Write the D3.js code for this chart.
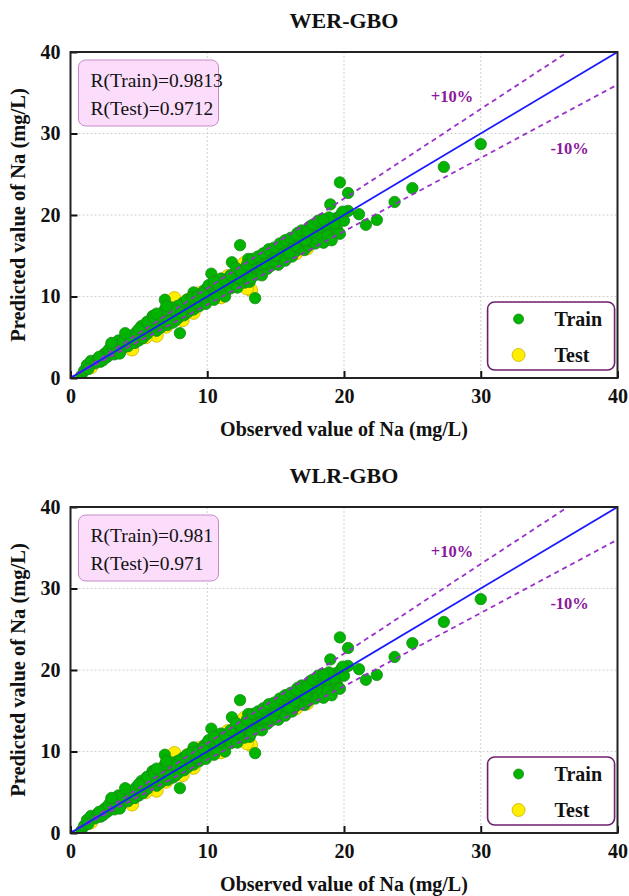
<!DOCTYPE html>
<html>
<head>
<meta charset="utf-8">
<script src="https://cdn.jsdelivr.net/npm/d3@7"></script>
<style>
  html, body { margin: 0; padding: 0; background: #fff; }
  svg text { font-family: "Liberation Serif", "Times New Roman", "DejaVu Serif", serif; }
</style>
</head>
<body>
<svg id="chart" width="629" height="896"></svg>
<script>
// Observed vs predicted sodium (mg/L) for the training set
const trainObs = [
  0.8,1.0,1.2,1.5,1.8,2.0,2.2,2.5,2.7,2.9,3.0,3.2,3.4,3.5,3.7,3.9,4.0,4.2,4.4,4.5,4.7,4.9,5.0,5.2,5.3,5.5,5.6,5.8,5.9,6.0,
  6.1,6.3,6.4,6.5,6.6,6.7,6.9,7.0,7.1,7.2,7.3,7.5,7.6,7.8,7.9,8.0,8.1,8.2,8.3,8.5,8.6,8.7,8.9,9.0,9.1,9.3,9.4,9.5,9.7,9.8,
  9.9,10.0,10.2,10.3,10.4,10.5,10.6,10.8,10.9,11.0,11.2,11.3,11.4,11.5,11.7,11.8,11.9,12.0,12.1,12.2,12.4,12.4,12.5,12.6,12.7,12.8,12.9,13.0,13.1,13.2,
  13.3,13.4,13.5,13.6,13.7,13.8,13.9,14.0,14.1,14.2,14.3,14.4,14.5,14.6,14.7,14.8,14.9,15.0,15.1,15.2,15.3,15.4,15.5,15.6,15.7,15.8,15.9,16.0,16.1,16.2,
  16.3,16.4,16.5,16.6,16.8,16.9,17.0,17.1,17.3,17.4,17.5,17.6,17.8,17.9,18.0,18.1,18.3,18.4,18.5,18.6,18.8,19.0,19.1,19.2,19.4,19.5,19.7,19.7,19.8,20.0,
  20.3,20.3,21.1,21.6,22.4,23.7,25.0,27.3,30.0,
  1.3,2.4,3.3,3.6,4.1,4.6,5.1,5.4,5.7,6.2,6.8,7.4,7.7,8.4,8.8,9.2,9.6,10.1,10.7,11.1,11.6,12.3,12.7,13.2,13.6,14.0,14.4,14.8,15.2,15.6,
  16.0,16.4,16.7,17.2,17.7,18.2,18.7,19.3,19.9,13.0,11.0,9.0,7.2,6.0,15.0,14.2,12.0,10.5,8.0,16.6,17.5,18.9,
  2.1,2.8,3.1,3.8,4.3,4.8,5.2,5.6,6.1,6.5,6.9,7.3,7.7,8.1,8.5,8.9,9.3,9.7,10.1,10.5,10.9,11.3,11.7,12.1,12.5,12.9,13.3,13.7,14.1,14.5,
  14.9,15.3,15.7,16.1,16.5,16.9,17.3,17.7,18.1,18.5,5.0,6.3,7.0,4.0,3.0
];
const trainPred = [
  0.3,0.9,1.6,2.1,1.8,2.4,2.0,3.0,2.6,3.4,4.2,2.9,3.8,4.6,3.4,4.1,4.9,3.9,4.6,5.2,4.3,5.0,4.6,5.6,4.9,6.2,5.4,7.0,6.0,7.6,
  6.6,5.8,7.3,6.9,6.2,7.9,9.6,7.2,6.5,8.3,7.6,6.8,8.0,8.8,7.4,5.5,8.4,9.2,7.7,8.9,8.1,9.7,9.0,8.4,9.9,9.4,8.8,10.3,9.6,10.8,
  9.1,10.2,11.0,12.8,10.1,9.6,11.4,10.7,11.8,10.4,11.3,10.0,12.1,11.6,11.0,14.2,12.4,11.5,12.8,11.1,16.3,12.6,12.0,13.2,11.7,12.8,12.2,13.6,11.8,13.0,
  12.5,14.0,9.8,13.3,12.7,14.3,13.2,12.6,14.6,13.8,15.1,13.4,14.4,15.4,13.8,15.0,14.2,15.7,14.6,13.9,15.3,16.0,14.9,15.6,14.4,16.3,15.3,16.8,15.8,14.9,
  16.2,17.0,15.6,16.6,15.9,17.3,16.6,15.7,17.0,16.2,17.6,16.8,17.3,16.5,18.0,17.0,17.6,19.5,16.6,18.3,17.5,21.3,16.9,18.6,19.6,18.2,24.0,17.7,20.1,19.3,
  22.7,20.5,20.1,18.8,19.4,21.6,23.3,25.9,28.7,
  1.1,2.2,3.3,3.0,4.4,4.8,5.3,5.9,6.6,6.9,7.0,7.9,7.1,8.5,8.6,9.2,9.9,10.6,10.2,11.7,12.3,12.3,13.4,12.2,14.1,13.9,14.9,14.3,15.5,16.4,
  15.4,16.2,17.2,16.9,17.9,18.5,18.8,19.0,20.4,14.6,12.2,10.5,7.0,6.4,15.0,14.1,12.7,11.1,8.9,17.8,18.6,19.7,
  2.6,3.5,3.7,4.5,5.1,5.6,6.4,6.9,7.4,7.6,8.4,8.7,8.3,8.0,9.6,9.9,10.0,10.4,11.4,11.8,11.2,12.0,12.6,13.5,13.0,13.9,14.6,14.9,15.3,15.8,
  16.0,16.5,16.9,17.2,17.5,18.1,18.0,18.8,19.3,19.4,6.0,7.9,8.8,5.5,4.3
];

// Observed vs predicted sodium (mg/L) for the test set
const testObs  = [7.6,3.0,4.5,5.8,6.3,7.0,8.2,9.0,9.8,10.5,11.0,12.8,13.2,12.5,14.0,15.5,16.5,18.0,17.3,12.7,12.9,5.5,4.0,2.5,1.5,6.8,8.6,9.4,11.5,14.8,16.0,17.5,19.0];
const testPred = [9.8,3.4,3.5,6.1,5.2,6.3,7.1,8.0,9.3,10.4,9.9,11.5,10.8,12.1,13.3,14.6,15.3,17.0,15.9,14.1,11.0,5.0,4.2,2.7,1.3,7.9,9.6,10.4,12.5,15.6,16.6,18.3,18.6];

// Panel definitions
const panelTitles = ["WER-GBO", "WLR-GBO"];
const rTrainLabels = ["R(Train)=0.9813", "R(Train)=0.981"];
const rTestLabels  = ["R(Test)=0.9712", "R(Test)=0.971"];
const axisTicks = [0, 10, 20, 30, 40];
const bandLabels = ["+10%", "-10%"];
const legendLabels = ["Train", "Test"];

const svg = d3.select("#chart");
svg.append("rect").attr("width", 629).attr("height", 896).attr("fill", "#fff");

const margin = { left: 70.5, width: 547 };
const panelTops = [52, 507];
const panelHeight = 326;

const trainColor = "#00b400", trainStroke = "#1d8a1d";
const testColor = "#ffee00", testStroke = "#c9b200";
const bandColor = "#9932cc";
const bandText = "#8b1a9b";
const serif = "'Liberation Serif', 'Times New Roman', 'DejaVu Serif', serif";

panelTitles.forEach((title, p) => {
  const top = panelTops[p];
  const g = svg.append("g").attr("transform", `translate(${margin.left},${top})`);
  const w = margin.width, h = panelHeight;

  const x = d3.scaleLinear().domain([0, 40]).range([0, w]);
  const y = d3.scaleLinear().domain([0, 40]).range([h, 0]);

  // title
  svg.append("text")
    .attr("x", margin.left + w / 2).attr("y", top - 32)
    .attr("text-anchor", "middle").attr("dominant-baseline", "central")
    .attr("font-size", 22).attr("font-weight", "bold").attr("fill", "#111")
    .text(title);

  // grid
  const clip = "clip" + p;
  g.append("clipPath").attr("id", clip).append("rect").attr("width", w).attr("height", h);
  g.append("g").selectAll("line").data(axisTicks.slice(1, -1)).join("line")
    .attr("x1", d => x(d)).attr("x2", d => x(d)).attr("y1", 0).attr("y2", h)
    .attr("stroke", "#d0d0d0").attr("stroke-dasharray", "2,2").attr("stroke-width", 1);
  g.append("g").selectAll("line").data(axisTicks.slice(1, -1)).join("line")
    .attr("y1", d => y(d)).attr("y2", d => y(d)).attr("x1", 0).attr("x2", w)
    .attr("stroke", "#d0d0d0").attr("stroke-dasharray", "2,2").attr("stroke-width", 1);

  const plot = g.append("g").attr("clip-path", `url(#${clip})`);

  // test points (under training points)
  plot.append("g").selectAll("circle").data(d3.zip(testObs, testPred)).join("circle")
    .attr("cx", d => x(d[0])).attr("cy", d => y(d[1])).attr("r", 6.6)
    .attr("fill", testColor).attr("stroke", testStroke).attr("stroke-width", 0.8);

  // training points
  plot.append("g").selectAll("circle").data(d3.zip(trainObs, trainPred)).join("circle")
    .attr("cx", d => x(d[0])).attr("cy", d => y(d[1])).attr("r", 5.7)
    .attr("fill", trainColor).attr("stroke", trainStroke).attr("stroke-width", 0.8);

  // ±10% bands and 1:1 line
  const line = d3.line().x(d => x(d[0])).y(d => y(d[1]));
  plot.append("path").attr("d", line([[0, 0], [40, 44]]))
    .attr("stroke", bandColor).attr("stroke-width", 1.8).attr("stroke-dasharray", "5,4").attr("fill", "none");
  plot.append("path").attr("d", line([[0, 0], [40, 36]]))
    .attr("stroke", bandColor).attr("stroke-width", 1.8).attr("stroke-dasharray", "5,4").attr("fill", "none");
  plot.append("path").attr("d", line([[0, 0], [40, 40]]))
    .attr("stroke", "#1a1aff").attr("stroke-width", 1.8).attr("fill", "none");

  g.append("text").attr("x", x(27.9)).attr("y", y(34.6))
    .attr("text-anchor", "middle").attr("dominant-baseline", "central")
    .attr("font-size", 16.5).attr("font-weight", "bold").attr("fill", bandText).text(bandLabels[0]);
  g.append("text").attr("x", x(36.5)).attr("y", y(28.2))
    .attr("text-anchor", "middle").attr("dominant-baseline", "central")
    .attr("font-size", 16.5).attr("font-weight", "bold").attr("fill", bandText).text(bandLabels[1]);

  // axes with inward ticks
  const xAxis = d3.axisBottom(x).tickValues(axisTicks).tickSize(-7).tickPadding(13).tickFormat(d3.format("d"));
  const yAxis = d3.axisLeft(y).tickValues(axisTicks).tickSize(-7).tickPadding(10).tickFormat(d3.format("d"));
  const gx = g.append("g").attr("transform", `translate(0,${h})`).call(xAxis);
  const gy = g.append("g").call(yAxis);
  [gx, gy].forEach(a => {
    a.attr("font-family", serif);
    a.select(".domain").remove();
    a.selectAll(".tick line").attr("stroke", "#111").attr("stroke-width", 2);
    a.selectAll(".tick text").attr("font-size", 20).attr("font-weight", "bold")
      .attr("fill", "#111").attr("font-family", serif);
  });
  gx.selectAll(".tick text").attr("dy", "0.6em");

  // frame
  g.append("rect").attr("width", w).attr("height", h)
    .attr("fill", "none").attr("stroke", "#222").attr("stroke-width", 2);

  // axis titles
  svg.append("text")
    .attr("x", margin.left + w / 2).attr("y", top + h + 51)
    .attr("text-anchor", "middle").attr("dominant-baseline", "central")
    .attr("font-size", 20).attr("font-weight", "bold").attr("fill", "#111")
    .text("Observed value of Na (mg/L)");
  svg.append("text")
    .attr("transform", `translate(18,${top + h / 2}) rotate(-90)`)
    .attr("text-anchor", "middle").attr("dominant-baseline", "central")
    .attr("font-size", 20.5).attr("font-weight", "bold").attr("fill", "#111")
    .text("Predicted value of Na (mg/L)");

  // correlation box
  g.append("rect").attr("x", 8).attr("y", 8).attr("width", 140).attr("height", 66)
    .attr("rx", 7).attr("fill", "#fbdcfb").attr("stroke", "#c58ac5").attr("stroke-width", 1);
  g.append("text").attr("x", 20).attr("y", 28).attr("dominant-baseline", "central")
    .attr("font-size", 19.5).attr("fill", "#111").text(rTrainLabels[p]);
  g.append("text").attr("x", 20).attr("y", 56).attr("dominant-baseline", "central")
    .attr("font-size", 19.5).attr("fill", "#111").text(rTestLabels[p]);

  // legend
  const lg = g.append("g").attr("transform", `translate(${x(30.5)},${y(40) + 250})`);
  lg.append("rect").attr("width", 127).attr("height", 68).attr("rx", 7)
    .attr("fill", "#fff").attr("stroke", "#6e1f6e").attr("stroke-width", 1.6);
  lg.append("circle").attr("cx", 31).attr("cy", 17).attr("r", 5)
    .attr("fill", trainColor).attr("stroke", trainStroke).attr("stroke-width", 0.8);
  lg.append("circle").attr("cx", 31).attr("cy", 53).attr("r", 6.5)
    .attr("fill", testColor).attr("stroke", testStroke).attr("stroke-width", 0.8);
  lg.append("text").attr("x", 67).attr("y", 17).attr("dominant-baseline", "central")
    .attr("font-size", 20).attr("font-weight", "bold").attr("fill", "#111").text(legendLabels[0]);
  lg.append("text").attr("x", 67).attr("y", 53).attr("dominant-baseline", "central")
    .attr("font-size", 20).attr("font-weight", "bold").attr("fill", "#111").text(legendLabels[1]);
});
</script>
</body>
</html>
